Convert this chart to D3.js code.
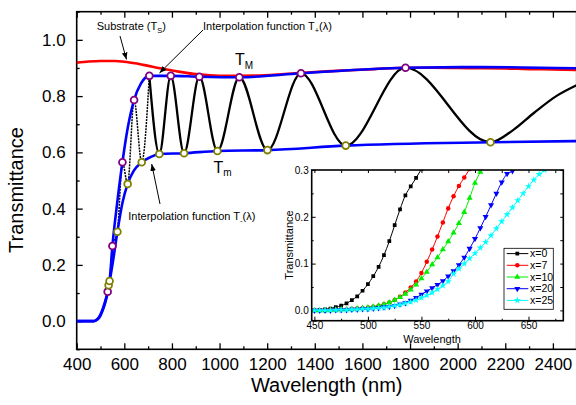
<!DOCTYPE html>
<html>
<head>
<meta charset="utf-8">
<script src="https://cdn.jsdelivr.net/npm/d3@7"></script>
<style>
  body { margin: 0; background: #fff; }
  svg { display: block; font-family: "Liberation Sans", Arial, sans-serif; }
</style>
</head>
<body>
<svg id="chart"></svg>
<script>
// Main chart data (wavelength nm, transmittance)
const substrate = [[400,0.919],[450,0.923],[500,0.925],[560,0.925],[610,0.921],[680,0.911],[750,0.899],[820,0.888],[890,0.879],[960,0.874],[1030,0.872],[1150,0.873],[1250,0.877],[1350,0.883],[1450,0.888],[1550,0.892],[1650,0.896],[1780,0.901],[1900,0.901],[2000,0.900],[2100,0.899],[2200,0.898],[2300,0.896],[2400,0.895],[2500,0.893]];
const upperEnv = [[400,0],[470,0],[480,0.003],[490,0.01],[500,0.024],[510,0.045],[520,0.072],[530,0.105],[540,0.16],[550,0.267],[570,0.42],[592,0.565],[615,0.69],[641,0.786],[670,0.845],[705,0.872],[795,0.872],[915,0.869],[1083,0.867],[1342,0.881],[1781,0.901],[2100,0.903],[2500,0.899]];
const lowerEnv = [[400,0],[470,0],[480,0.002],[490,0.008],[500,0.02],[510,0.04],[520,0.066],[530,0.1],[538,0.14],[550,0.2],[571,0.318],[592,0.42],[614,0.488],[640,0.535],[673,0.565],[710,0.583],[747,0.594],[851,0.597],[991,0.605],[1201,0.608],[1530,0.624],[2138,0.636],[2500,0.64]];
const fringes = [[400,0],[470,0],[480,0.003],[490,0.01],[500,0.024],[510,0.045],[520,0.072],[530,0.105],[538,0.14],[550,0.267],[571,0.318],[592,0.565],[614,0.488],[641,0.786],[673,0.565],[705,0.872],[747,0.594],[795,0.872],[851,0.597],[915,0.869],[991,0.605],[1083,0.867],[1201,0.608],[1342,0.881],[1530,0.624],[1781,0.901],[2138,0.636],[2234,0.68],[2320,0.74],[2414,0.8],[2500,0.839]];
const maxima = [[530,0.105],[550,0.267],[592,0.565],[641,0.786],[705,0.872],[795,0.872],[915,0.869],[1083,0.867],[1342,0.881],[1781,0.901]];
const minima = [[534,0.128],[538,0.143],[571,0.318],[614,0.488],[673,0.565],[747,0.594],[851,0.597],[991,0.605],[1201,0.608],[1530,0.624],[2138,0.636]];
const xMajor = [400,600,800,1000,1200,1400,1600,1800,2000,2200,2400];
const xMinor = [500,700,900,1100,1300,1500,1700,1900,2100,2300,2500];
const yMajor = [0,0.2,0.4,0.6,0.8,1.0];
const yMinor = [-0.1,0.1,0.3,0.5,0.7,0.9,1.1];

// Inset data (5 nm steps starting at 450)
const insetWl = [450,455,460,465,470,475,480,485,490,495,500,505,510,515,520,525,530,535,540,545,550,555,560,565,570,575,580,585,590,595,600,605,610,615,620,625,630,635,640,645,650,655,660,665,670];
const tX0 = [0,0.001,0.002,0.004,0.007,0.010,0.015,0.022,0.030,0.042,0.056,0.073,0.093,0.118,0.148,0.182,0.216,0.246,0.265,0.283,0.302];
const tX7 = [0,0,0,0.001,0.001,0.002,0.002,0.003,0.004,0.005,0.006,0.008,0.010,0.013,0.017,0.022,0.029,0.038,0.049,0.062,0.080,0.104,0.130,0.158,0.188,0.218,0.244,0.266,0.284,0.302];
const tX10 = [0,0,0,0.001,0.001,0.002,0.002,0.003,0.004,0.005,0.006,0.008,0.010,0.013,0.017,0.022,0.028,0.035,0.044,0.055,0.068,0.082,0.098,0.113,0.130,0.147,0.166,0.186,0.210,0.240,0.272,0.296,0.318];
const tX20 = [0,0,0,0,0.001,0.001,0.001,0.002,0.002,0.003,0.003,0.004,0.005,0.007,0.008,0.010,0.013,0.016,0.021,0.027,0.034,0.041,0.048,0.055,0.063,0.073,0.084,0.097,0.113,0.132,0.153,0.176,0.200,0.225,0.250,0.274,0.292,0.298,0.32];
const tX25 = [0,0,0,0,0.001,0.001,0.001,0.002,0.002,0.003,0.003,0.004,0.005,0.006,0.008,0.010,0.012,0.015,0.018,0.022,0.027,0.032,0.038,0.045,0.053,0.062,0.078,0.089,0.100,0.111,0.122,0.134,0.146,0.160,0.175,0.190,0.205,0.220,0.235,0.250,0.265,0.279,0.291,0.300,0.31];
const insetNames = ["x=0","x=7","x=10","x=20","x=25"];
const insetColors = ["#000000","#ff0000","#00ee00","#0000ff","#00ffff"];
const insetXMajor = [450,500,550,600,650];
const insetXMinor = [475,525,575,625,675];
const insetYMajor = [0,0.1,0.2,0.3];
const insetYMinor = [0.05,0.15,0.25];

const width = 576;
const height = 405;

const svg = d3.select("#chart").attr("width", width).attr("height", height);

// Scales
const x = d3.scaleLinear().domain([400, 2500]).range([76.7, 576.7]);
const y = d3.scaleLinear().domain([-0.1, 1.1]).range([349.3, 11.7]);

svg.append("defs").append("clipPath").attr("id", "clipMain")
  .append("rect").attr("x", 76.7).attr("y", 11.7).attr("width", 500).attr("height", 337.6);

svg.select("defs").append("marker")
  .attr("id", "arrow").attr("viewBox", "0 0 10 10")
  .attr("refX", 10).attr("refY", 5)
  .attr("markerWidth", 7).attr("markerHeight", 7)
  .attr("markerUnits", "userSpaceOnUse")
  .attr("orient", "auto")
  .append("path").attr("d", "M0,1 L10,5 L0,9 Z").attr("fill", "#000");

// Axes (ticks inward)
function styleAxis(g) {
  g.select(".domain").remove();
  g.selectAll("line").attr("stroke", "#000").attr("stroke-width", 1.3);
  g.selectAll("text").attr("fill", "#000");
}

svg.append("g").attr("transform", "translate(0,349.3)")
  .call(d3.axisBottom(x).tickValues(xMajor).tickSize(-6).tickSizeOuter(0).tickPadding(9).tickFormat(d3.format("d")))
  .attr("font-size", 17).attr("font-family", null).call(styleAxis);
svg.append("g").attr("transform", "translate(0,349.3)")
  .call(d3.axisBottom(x).tickValues(xMinor).tickSize(-3).tickSizeOuter(0).tickFormat(""))
  .call(styleAxis);
svg.append("g").attr("transform", "translate(0,11.7)")
  .call(d3.axisTop(x).tickValues(xMajor).tickSize(-6).tickSizeOuter(0).tickFormat(""))
  .call(styleAxis);
svg.append("g").attr("transform", "translate(0,11.7)")
  .call(d3.axisTop(x).tickValues(xMinor).tickSize(-3).tickSizeOuter(0).tickFormat(""))
  .call(styleAxis);
svg.append("g").attr("transform", "translate(76.7,0)")
  .call(d3.axisLeft(y).tickValues(yMajor).tickSize(-6).tickSizeOuter(0).tickPadding(11).tickFormat(d3.format(".1f")))
  .attr("font-size", 17).attr("font-family", null).call(styleAxis);
svg.append("g").attr("transform", "translate(76.7,0)")
  .call(d3.axisLeft(y).tickValues(yMinor).tickSize(-3).tickSizeOuter(0).tickFormat(""))
  .call(styleAxis);

svg.append("rect").attr("x", 76.7).attr("y", 11.7).attr("width", 500).attr("height", 337.6)
  .attr("fill", "none").attr("stroke", "#000").attr("stroke-width", 1.6);

svg.append("text").attr("x", 326.7).attr("y", 392).attr("text-anchor", "middle")
  .attr("font-size", 20).text("Wavelength (nm)");
svg.append("text").attr("transform", "translate(23.3,190) rotate(-90)").attr("text-anchor", "middle")
  .attr("font-size", 20).text("Transmittance");

// Curves
const line = d3.line().x((d) => x(d[0])).y((d) => y(d[1])).curve(d3.curveMonotoneX);
const plot = svg.append("g").attr("clip-path", "url(#clipMain)");

plot.append("path").datum(fringes.filter((d) => d[0] <= 705))
  .attr("d", line).attr("fill", "none").attr("stroke", "#000").attr("stroke-width", 1.5)
  .attr("stroke-dasharray", "2,1");
plot.append("path").datum(fringes.filter((d) => d[0] >= 705))
  .attr("d", line).attr("fill", "none").attr("stroke", "#000").attr("stroke-width", 2.3);
plot.append("path").datum(substrate)
  .attr("d", line).attr("fill", "none").attr("stroke", "#ff0000").attr("stroke-width", 2.6);
plot.append("path").datum(upperEnv)
  .attr("d", line).attr("fill", "none").attr("stroke", "#0000ff").attr("stroke-width", 2.6);
plot.append("path").datum(lowerEnv)
  .attr("d", line).attr("fill", "none").attr("stroke", "#0000ff").attr("stroke-width", 2.6);

plot.selectAll(".tmax").data(maxima).enter().append("circle")
  .attr("class", "tmax").attr("cx", (d) => x(d[0])).attr("cy", (d) => y(d[1])).attr("r", 3.4)
  .attr("fill", "#fff").attr("stroke", "#800080").attr("stroke-width", 1.8);
plot.selectAll(".tmin").data(minima).enter().append("circle")
  .attr("class", "tmin").attr("cx", (d) => x(d[0])).attr("cy", (d) => y(d[1])).attr("r", 3.4)
  .attr("fill", "#fff").attr("stroke", "#808000").attr("stroke-width", 1.8);

// Annotations
const sub = svg.append("text").attr("x", 96.7).attr("y", 29.5).attr("font-size", 11);
sub.append("tspan").text("Substrate (T");
sub.append("tspan").attr("font-size", 7.5).attr("dy", 3).text("S");
sub.append("tspan").attr("dy", -3).text(")");

const tp = svg.append("text").attr("x", 203).attr("y", 29.5).attr("font-size", 11);
tp.append("tspan").text("Interpolation function T");
tp.append("tspan").attr("font-size", 7.5).attr("dy", 3).text("+");
tp.append("tspan").attr("dy", -3).text("(λ)");

const tm = svg.append("text").attr("x", 128.3).attr("y", 219.5).attr("font-size", 11);
tm.append("tspan").text("Interpolation function T");
tm.append("tspan").attr("font-size", 7.5).attr("dy", 3).text("-");
tm.append("tspan").attr("dy", -3).text("(λ)");

const TM = svg.append("text").attr("x", 235).attr("y", 65).attr("font-size", 16);
TM.append("tspan").text("T");
TM.append("tspan").attr("font-size", 10).attr("dy", 3.5).text("M");

const Tm = svg.append("text").attr("x", 213.5).attr("y", 172.7).attr("font-size", 16);
Tm.append("tspan").text("T");
Tm.append("tspan").attr("font-size", 10).attr("dy", 3.5).text("m");

const arrows = [[120, 36, 126.5, 59.5], [203, 30, 159.5, 73], [160, 204, 151.7, 164]];
svg.selectAll(".arrow").data(arrows).enter().append("line")
  .attr("class", "arrow")
  .attr("x1", (d) => d[0]).attr("y1", (d) => d[1]).attr("x2", (d) => d[2]).attr("y2", (d) => d[3])
  .attr("stroke", "#000").attr("stroke-width", 1).attr("marker-end", "url(#arrow)");

// Inset
const ix = d3.scaleLinear().domain([447.5, 682.5]).range([311.7, 563.3]);
const iy = d3.scaleLinear().domain([-0.022, 0.3]).range([320.7, 170]);

svg.append("rect").attr("x", 311.7).attr("y", 170).attr("width", 251.6).attr("height", 150.7).attr("fill", "#fff");
svg.select("defs").append("clipPath").attr("id", "clipInset")
  .append("rect").attr("x", 311.7).attr("y", 170).attr("width", 251.6).attr("height", 150.7);

const inset = svg.append("g");
inset.append("g").attr("transform", "translate(0,320.7)")
  .call(d3.axisBottom(ix).tickValues(insetXMajor).tickSize(-4).tickSizeOuter(0).tickPadding(1))
  .attr("font-size", 10).attr("font-family", null).call(styleAxis);
inset.append("g").attr("transform", "translate(0,320.7)")
  .call(d3.axisBottom(ix).tickValues(insetXMinor).tickSize(-2).tickSizeOuter(0).tickFormat(""))
  .call(styleAxis);
inset.append("g").attr("transform", "translate(0,170)")
  .call(d3.axisTop(ix).tickValues(insetXMajor.concat(insetXMinor)).tickSize(-3).tickSizeOuter(0).tickFormat(""))
  .call(styleAxis);
inset.append("g").attr("transform", "translate(311.7,0)")
  .call(d3.axisLeft(iy).tickValues(insetYMajor).tickSize(-4).tickSizeOuter(0).tickPadding(3).tickFormat(d3.format(".1f")))
  .attr("font-size", 10).attr("font-family", null).call(styleAxis);
inset.append("g").attr("transform", "translate(311.7,0)")
  .call(d3.axisLeft(iy).tickValues(insetYMinor).tickSize(-2).tickSizeOuter(0).tickFormat(""))
  .call(styleAxis);
inset.append("g").attr("transform", "translate(563.3,0)")
  .call(d3.axisRight(iy).tickValues(insetYMajor.concat(insetYMinor)).tickSize(-3).tickSizeOuter(0).tickFormat(""))
  .call(styleAxis);
inset.selectAll("line").attr("stroke-width", 1);

inset.append("text").attr("x", 432).attr("y", 342.5).attr("text-anchor", "middle")
  .attr("font-size", 11).text("Wavelength");
inset.append("text").attr("transform", "translate(293,245) rotate(-90)").attr("text-anchor", "middle")
  .attr("font-size", 11).text("Transmittance");

const insetSeries = [tX0, tX7, tX10, tX20, tX25];
const symbols = [d3.symbolSquare, d3.symbolCircle, d3.symbolTriangle, d3.symbolTriangle, d3.symbolStar];
const symbolSizes = [14, 16, 16, 16, 16];
const symbolRot = [0, 0, 0, 180, 0];
const iline = d3.line().x((d, i) => ix(insetWl[i])).y((d) => iy(d)).curve(d3.curveMonotoneX);

const ip = inset.append("g").attr("clip-path", "url(#clipInset)");
insetSeries.forEach((s, k) => {
  ip.append("path").datum(s).attr("d", iline)
    .attr("fill", "none").attr("stroke", insetColors[k]).attr("stroke-width", 1);
  ip.selectAll(".m" + k).data(s).enter().append("path")
    .attr("class", "m" + k)
    .attr("transform", (d, i) => `translate(${ix(insetWl[i])},${iy(d)}) rotate(${symbolRot[k]})`)
    .attr("d", d3.symbol().type(symbols[k]).size(symbolSizes[k]))
    .attr("fill", insetColors[k]);
});

inset.append("rect").attr("x", 311.7).attr("y", 170).attr("width", 251.6).attr("height", 150.7)
  .attr("fill", "none").attr("stroke", "#000").attr("stroke-width", 1.6);

// Inset legend
const legend = inset.append("g");
legend.append("rect").attr("x", 504).attr("y", 248.3).attr("width", 49.3).attr("height", 61)
  .attr("fill", "#fff").attr("stroke", "#000").attr("stroke-width", 0.8);
insetNames.forEach((name, k) => {
  const ly = 253.6 + k * 11.7;
  legend.append("line").attr("x1", 506.7).attr("x2", 528.3).attr("y1", ly).attr("y2", ly)
    .attr("stroke", insetColors[k]).attr("stroke-width", 1);
  legend.append("path")
    .attr("transform", `translate(517.3,${ly}) rotate(${symbolRot[k]})`)
    .attr("d", d3.symbol().type(symbols[k]).size(symbolSizes[k]))
    .attr("fill", insetColors[k]);
  legend.append("text").attr("x", 530).attr("y", ly).attr("dy", "0.35em")
    .attr("font-size", 10.5).text(name);
});
</script>
</body>
</html>
